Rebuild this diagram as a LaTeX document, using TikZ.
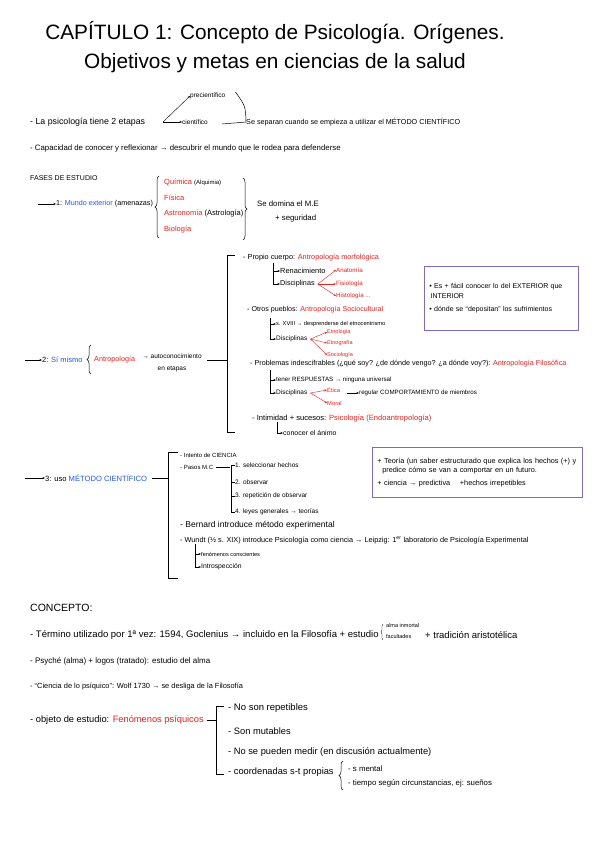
\documentclass[tikz,border=0pt]{standalone}
\usepackage{fontspec}
\setmainfont{Liberation Sans}
\usetikzlibrary{positioning, arrows.meta, decorations.pathreplacing, calc}
\definecolor{redink}{HTML}{E8201E}
\definecolor{blueink}{HTML}{2455EE}
\definecolor{boxline}{HTML}{8466C8}

\begin{document}
\begin{tikzpicture}[
    x=1pt, y=-1pt,
    txt/.style={anchor=west, inner sep=0pt, font=\fontsize{#1}{9}\selectfont},
    txt/.default=7.2,
    rd/.style={text=redink},
    arr/.style={-{Stealth[length=2.5pt, width=2pt]}, line width=0.4pt},
    rarr/.style={arr, draw=redink},
    bracket/.style={line width=0.7pt},
    curly/.style={decorate, decoration={brace, amplitude=4pt}, line width=0.5pt},
    note/.style={draw=boxline, line width=0.8pt, anchor=north west, align=left, inner xsep=5pt}
]
    \fill[white] (0,0) rectangle (600,848);
    \useasboundingbox (0,0) rectangle (600,848);

    % title
    \node[font=\fontsize{20.8}{29}\selectfont, align=center] (title) at (275,47) {CAPÍTULO 1: Concepto de Psicología. Orígenes.\\Objetivos y metas en ciencias de la salud};

    % etapas
    \node[txt=8.8] (etapas) at (30,122) {- La psicología tiene 2 etapas};
    \node[txt=6.5] (precien) at (190,96) {precientífico};
    \node[txt=6.5] (cien) at (182,122) {científico};
    \coordinate (split) at (163,122);
    \draw[arr] (split) -- (precien.west);
    \draw[arr] (split) -- (cien.west);
    \node[txt] (separan) at (246,122) {Se separan cuando se empieza a utilizar el MÉTODO CIENTÍFICO};
    \draw[line width=0.5pt] ($(precien.east)+(10,-4)$) .. controls ($(precien.east)+(20,10)$) .. (separan.west);
    \draw[line width=0.5pt] ($(cien.east)+(14,2)$) -- (separan.west);

    \node[txt=7.8] (capacidad) at (30,148) {- Capacidad de conocer y reflexionar → descubrir el mundo que le rodea para defenderse};

    % fases
    \node[txt=7] (fases) at (30,178) {FASES DE ESTUDIO};

    % fase 1
    \coordinate (f1) at (38,204);
    \node[txt=7.2] (fase1) at (56,204) {1: \textcolor{blueink}{Mundo exterior} (amenazas)};
    \draw[arr] (f1) -- (fase1.west);
    \draw[curly] (159,238) -- (159,176);
    \node[txt=7.5, rd] (quimica) at (164,182) {Química \textcolor{black}{\fontsize{6}{7}\selectfont(Alquimia)}};
    \node[txt=7.5, rd] (fisica) at (164,198) {Física};
    \node[txt=7.5, rd] (astro) at (164,214) {Astronomía \textcolor{black}{(Astrología)}};
    \node[txt=7.5, rd] (bio) at (164,230) {Biología};
    \draw[curly] (243,178) -- (243,240);
    \node[txt=7.8] (domina) at (257,204) {Se domina el M.E};
    \node[txt=7.8] (seguridad) at (275,218) {+ seguridad};

    % fase 2
    \coordinate (f2) at (25,360);
    \node[txt=7.5] (fase2) at (42,360) {2: \textcolor{blueink}{Sí mismo}};
    \draw[arr] (f2) -- (fase2.west);
    \draw[curly] (91,374) -- (91,345);
    \node[txt=7.2, rd] (antro) at (94,360) {Antropología};
    \node[anchor=center, align=center, inner sep=0pt, font=\fontsize{6.5}{12}\selectfont] (autocon) at (172,363) {→ autoconocimiento\\en etapas};
    \coordinate (b2) at (227,360);
    \draw ($(autocon.east)+(5,-3)$) -- (b2);
    \draw[bracket] (235,255) -- (227,255) -- (227,432) -- (235,432);

    % propio cuerpo
    \node[txt=7.3] (cuerpo) at (243,258) {- Propio cuerpo: \textcolor{redink}{Antropología morfológica}};
    \coordinate (tA) at (273,263);
    \node[txt=7.4] (renac) at (280,271) {Renacimiento};
    \node[txt=7.2] (discA) at (280,284) {Disciplinas};
    \draw[arr] (tA) |- (renac.west);
    \draw[arr] (tA) |- (discA.west);
    \coordinate (dA) at ($(discA.east)+(3,0)$);
    \node[txt=6.2, rd] (anatomia) at (336,270) {Anatomía};
    \node[txt=6.2, rd] (fisiol) at (336,284) {Fisiología};
    \node[txt=6.2, rd] (histol) at (336,296) {Histología ...};
    \foreach \d in {anatomia, fisiol, histol}
        \draw[rarr] (dA) -- (\d.west);

    % otros pueblos
    \node[txt=7.1] (pueblos) at (247,310) {- Otros pueblos: \textcolor{redink}{Antropología Sociocultural}};
    \coordinate (tB) at (270,318);
    \node[txt=5.7] (sxviii) at (276,324) {s. XVIII → desprenderse del etnocentrismo};
    \node[txt=6.5] (discB) at (276,339) {Disciplinas};
    \draw[arr] (tB) |- (sxviii.west);
    \draw[arr] (tB) |- (discB.west);
    \coordinate (dB) at ($(discB.east)+(3,0)$);
    \node[txt=5.5, rd] (etnol) at (327,332) {Etnología};
    \node[txt=5.5, rd] (etnog) at (327,343) {Etnografía};
    \node[txt=5.5, rd] (socio) at (327,355) {Sociología};
    \foreach \d in {etnol, etnog, socio}
        \draw[rarr] (dB) -- (\d.west);

    % problemas
    \node[txt=7.2] (problemas) at (250,364) {- Problemas indescifrables (¿qué soy? ¿de dónde vengo? ¿a dónde voy?): \textcolor{redink}{Antropología Filosófica}};
    \coordinate (tC) at (270,370);
    \node[txt=6.2] (respuestas) at (276,380) {tener RESPUESTAS → ninguna universal};
    \node[txt=6.5] (discC) at (276,393) {Disciplinas};
    \draw[arr] (tC) |- (respuestas.west);
    \draw[arr] (tC) |- (discC.west);
    \coordinate (dC) at ($(discC.east)+(3,0)$);
    \node[txt=5.8, rd] (etica) at (327,390) {Ética};
    \node[txt=5.8, rd] (moral) at (327,403) {Moral};
    \foreach \d in {etica, moral}
        \draw[rarr] (dC) -- (\d.west);
    \node[txt=6.2] (regular) at (359,393) {regular COMPORTAMIENTO de miembros};
    \draw[arr] ($(regular.west)+(-12,0)$) -- (regular.west);

    % intimidad
    \node[txt=7.6] (intimidad) at (252,418) {- Intimidad + sucesos: \textcolor{redink}{Psicología (Endoantropología)}};
    \coordinate (tD) at (277,422);
    \node[txt=7] (animo) at (283,433) {conocer el ánimo};
    \draw[arr] (tD) |- (animo.west);

    \node[note, text width=144pt, minimum height=64pt, font=\fontsize{7}{10}\selectfont] (nota1) at (424,266) {• Es + fácil conocer lo del EXTERIOR que\\ \,INTERIOR\\[3pt]• dónde se “depositan” los sufrimientos};

    % fase 3
    \coordinate (f3) at (25,478);
    \node[txt=7.6] (fase3) at (45,478) {3: uso \textcolor{blueink}{MÉTODO CIENTÍFICO}};
    \draw[arr] (f3) -- (fase3.west);
    \coordinate (b3) at (168,478);
    \draw ($(fase3.east)+(5,0)$) -- (b3);
    \draw[bracket] (178,452) -- (168,452) -- (168,578) -- (178,578);
    \node[txt=6] (intento) at (180,455) {- Intento de CIENCIA};
    \node[txt=6] (pasos) at (180,467) {- Pasos M.C};
    \coordinate (tP) at (230,467);
    \draw ($(pasos.east)+(3,0)$) -- (tP);
    \node[txt=6.5] (paso1) at (235,465) {1. seleccionar hechos};
    \node[txt=6.5] (paso2) at (235,482) {2. observar};
    \node[txt=6.5] (paso3) at (235,496) {3. repetición de observar};
    \node[txt=6.5] (paso4) at (235,512) {4. leyes generales → teorías};
    \draw (paso1.west) -| ($(paso4.west)+(-4,0)$) -- (paso4.west);
    \foreach \p in {paso2, paso3}
        \draw (\p.west) -- ++(-4,0);
    \node[txt=8.5] (bernard) at (180,525) {- Bernard introduce método experimental};
    \node[txt=7.3] (wundt) at (180,540) {- Wundt (½ s. XIX) introduce Psicología como ciencia → Leipzig: 1\textsuperscript{er} laboratorio de Psicología Experimental};
    \coordinate (tW) at (195,544);
    \node[txt=5.6] (fenom) at (201,554) {fenómenos conscientes};
    \node[txt=6.8] (intro) at (201,567) {Introspección};
    \draw[arr] (tW) |- (fenom.west);
    \draw[arr] (tW) |- (intro.west);

    \node[note, text width=200pt, minimum height=50pt, font=\fontsize{7.3}{9}\selectfont] (nota2) at (372,447) {+ Teoría (un saber estructurado que explica los hechos (+) y\\ \ \ predice cómo se van a comportar en un futuro.\\[4pt]+ ciencia → predictiva \quad +hechos irrepetibles};

    % concepto
    \node[txt=10.5] (concepto) at (30,608) {CONCEPTO:};
    \node[txt=9.5] (termino) at (30,635) {- Término utilizado por 1ª vez: 1594, Goclenius → incluido en la Filosofía + estudio};
    \draw[curly, line width=0.4pt, decoration={brace, amplitude=2pt}] (383,640) -- (383,624);
    \node[txt=5.5] (inmortal) at (386,626) {alma inmortal};
    \node[txt=5.5] (facultades) at (386,637) {facultades};
    \node[txt=9.5] (tradicion) at (425,635) {+ tradición aristotélica};
    \node[txt=8] (psyche) at (30,661) {- Psyché (alma) + logos (tratado): estudio del alma};
    \node[txt=7.4] (wolf) at (30,687) {- “Ciencia de lo psíquico”: Wolf 1730 → se desliga de la Filosofía};
    \node[txt=9.3] (objeto) at (30,720) {- objeto de estudio: \textcolor{redink}{Fenómenos psíquicos}};
    \coordinate (b4) at (216,720);
    \draw ($(objeto.east)+(3,0)$) -- (b4);
    \draw[bracket] (224,706) -- (216,706) -- (216,774) -- (224,774);
    \node[txt=9.5] (norep) at (228,708) {- No son repetibles};
    \node[txt=9.3] (mutables) at (228,731) {- Son mutables};
    \node[txt=9.3] (medir) at (228,752) {- No se pueden medir (en discusión actualmente)};
    \node[txt=9.3] (coord) at (228,772) {- coordenadas s-t propias};
    \draw[curly] (343,790) -- (343,761);
    \node[txt=7.8] (mental) at (348,769) {- s mental};
    \node[txt=7.8] (tiempo) at (348,783) {- tiempo según circunstancias, ej: sueños};
\end{tikzpicture}
\end{document}
